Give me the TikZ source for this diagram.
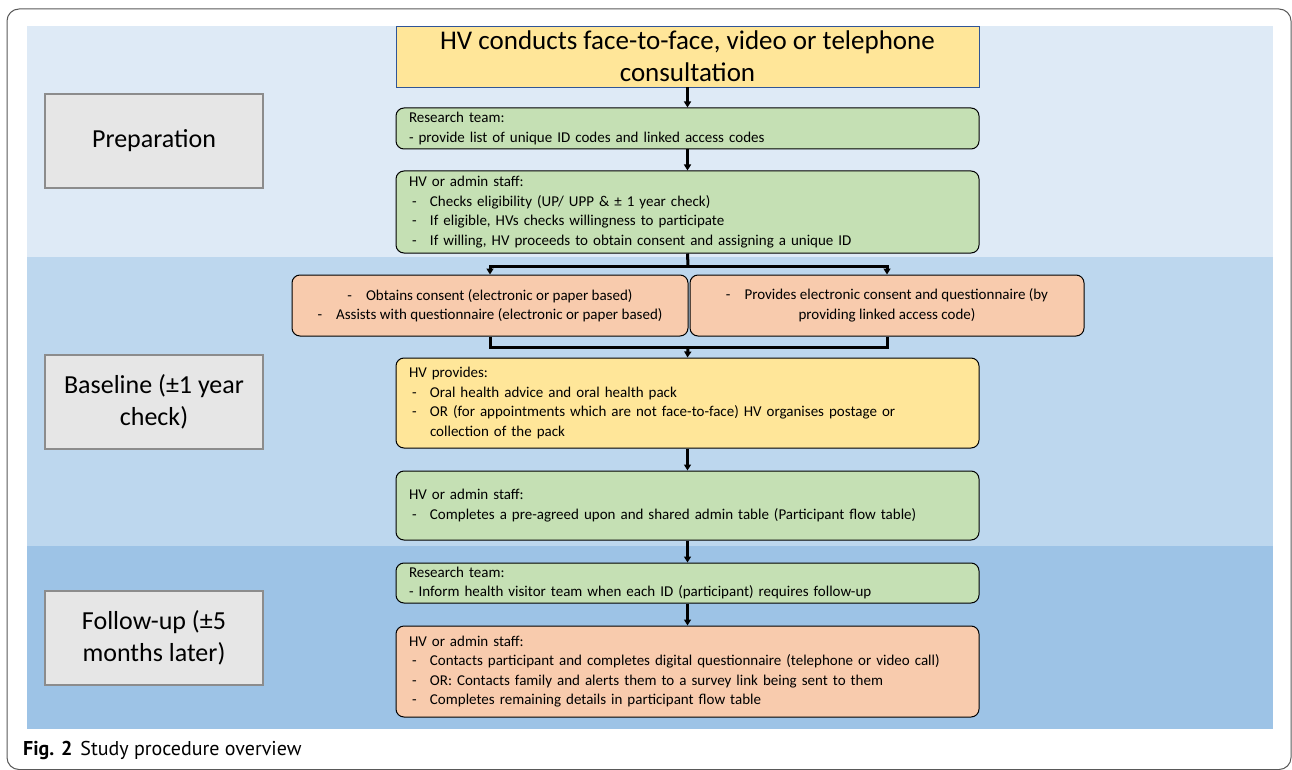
\documentclass[tikz,border=0pt]{standalone}
\usepackage{fontspec}
\setmainfont{Carlito}
\newfontfamily\capfont{PT Sans}
\usetikzlibrary{arrows.meta}
\definecolor{bandA}{HTML}{DEEAF6}
\definecolor{bandB}{HTML}{BDD7EE}
\definecolor{bandC}{HTML}{9DC3E6}
\definecolor{gfill}{HTML}{C5E0B4}
\definecolor{yfill}{HTML}{FFE699}
\definecolor{ofill}{HTML}{F8CBAD}
\definecolor{lfill}{HTML}{E6E6E6}
\definecolor{ldraw}{HTML}{8C8C8C}
\definecolor{tdraw}{HTML}{2F5597}
\newcommand\dashitem{\makebox[21pt][l]{\hspace{3pt}-}}
\tikzset{
  flowbox/.style={draw=black, line width=1pt, rounded corners=8pt, inner xsep=13pt, inner ysep=2pt,
    text width=557pt, align=left, font=\fontsize{15}{19.5}\selectfont},
  greenbox/.style={flowbox, fill=gfill},
  yellowbox/.style={flowbox, fill=yfill},
  orangebox/.style={flowbox, fill=ofill},
  sidebox/.style={draw=black, line width=1pt, rounded corners=8pt, fill=ofill, inner sep=2pt,
    align=center, font=\fontsize{15}{19.5}\selectfont, minimum height=61pt},
  phasebox/.style={draw=ldraw, line width=1.2pt, fill=lfill, minimum width=218pt, minimum height=94pt,
    align=center, font=\fontsize{26}{32}\selectfont},
  conn/.style={line width=3pt, draw=black},
  arr/.style={conn, -{Triangle[length=6pt,width=7pt]}},
}
\begin{document}
\begin{tikzpicture}[x=1pt,y=-1pt]
\useasboundingbox (0,0) rectangle (1292,770);
% outer frame
\draw[rounded corners=12pt, draw=black!65, line width=1pt] (7,9) rectangle (1291,769.5);
% bands
\fill[bandA] (27,26) rectangle (1273,257);
\fill[bandB] (27,257) rectangle (1273,546);
\fill[bandC] (27,546) rectangle (1273,729);
% phase labels
\node[phasebox] (prep) at (154,141) {Preparation};
\node[phasebox] (base) at (154,402) {Baseline (±1 year\\check)};
\node[phasebox] (foll) at (154,638) {Follow-up (±5\\months later)};
% top box
\node[draw=tdraw, line width=0.8pt, fill=yfill, minimum width=583pt, minimum height=61pt,
  align=center, font=\fontsize{27}{32}\selectfont, inner sep=0pt] (top) at (687.5,56.5)
  {HV conducts face-to-face, video or telephone\\consultation};
% flow boxes
\node[greenbox, minimum height=41pt] (rt1) at (687.5,128.5)
  {Research team:\\- provide list of unique ID codes and linked access codes};
\node[greenbox, minimum height=82pt] (hva) at (687.5,212)
  {HV or admin staff:\\
   \dashitem Checks eligibility (UP/ UPP \& ± 1 year check)\\
   \dashitem If eligible, HVs checks willingness to participate\\
   \dashitem If willing, HV proceeds to obtain consent and assigning a unique ID};
\node[sidebox, minimum width=396pt] (ob1) at (490,305.5)
  {-\hspace{14pt}Obtains consent (electronic or paper based)\\
   -\hspace{14pt}Assists with questionnaire (electronic or paper based)};
\node[sidebox, minimum width=394pt] (ob2) at (887,305.5)
  {-\hspace{14pt}Provides electronic consent and questionnaire (by\\
   providing linked access code)};
\node[yellowbox, minimum height=90pt] (hvp) at (687.5,403)
  {HV provides:\\
   \dashitem Oral health advice and oral health pack\\
   \dashitem OR (for appointments which are not face-to-face) HV organises postage or\\
   \hspace*{21pt}collection of the pack};
\node[greenbox, minimum height=69pt] (hvt) at (687.5,505.5)
  {HV or admin staff:\\
   \dashitem Completes a pre-agreed upon and shared admin table (Participant flow table)};
\node[greenbox, minimum height=40pt] (rt2) at (687.5,583)
  {Research team:\\- Inform health visitor team when each ID (participant) requires follow-up};
\node[orangebox, minimum height=91pt] (hvf) at (687.5,671.5)
  {HV or admin staff:\\
   \dashitem Contacts participant and completes digital questionnaire (telephone or video call)\\
   \dashitem OR: Contacts family and alerts them to a survey link being sent to them\\
   \dashitem Completes remaining details in participant flow table};
% connectors
\draw[arr] (top.south) -- (rt1.north);
\draw[arr] (rt1.south) -- (hva.north);
\coordinate (sp) at (688,266);
\draw[conn] (hva.south) -- (sp);
\draw[arr] (sp) -| (ob1.north);
\draw[arr] (sp) -| (ob2.north);
\coordinate (mg) at (688,347);
\draw[conn] (ob1.south) |- (mg);
\draw[conn] (ob2.south) |- (mg);
\draw[arr] (mg) -- (hvp.north);
\draw[arr] (hvp.south) -- (hvt.north);
\draw[arr] (hvt.south) -- (rt2.north);
\draw[arr] (rt2.south) -- (hvf.north);
% caption
\node[anchor=base west, font=\capfont\fontsize{20}{22}\selectfont, inner sep=0pt] (cap) at (23,755)
  {\textbf{Fig. 2}\hspace{8pt}Study procedure overview};
\end{tikzpicture}
\end{document}
